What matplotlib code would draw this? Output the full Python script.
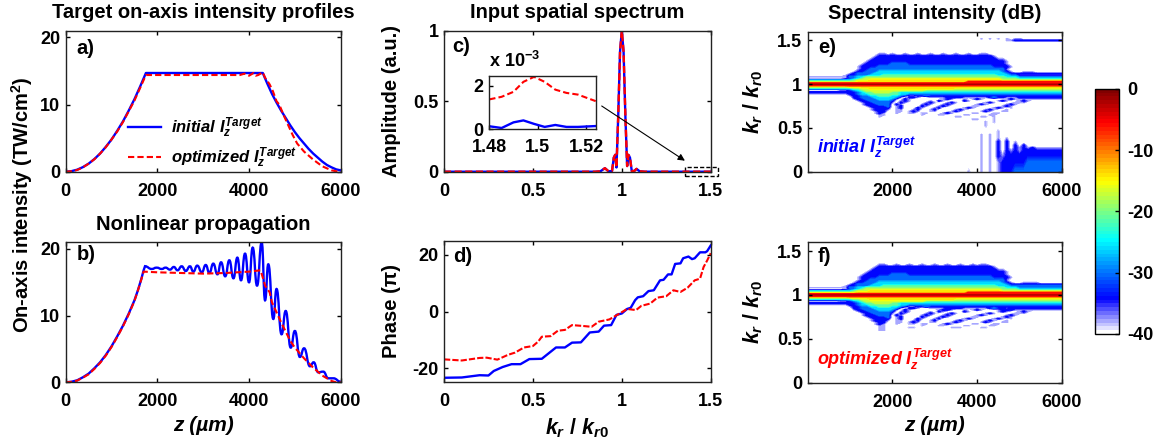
import numpy as np
import matplotlib
matplotlib.use('Agg')
import matplotlib.pyplot as plt
from matplotlib.colors import LinearSegmentedColormap
from matplotlib.patches import Rectangle, PathPatch
from matplotlib.path import Path

plt.rcParams['font.family'] = ['Liberation Sans', 'DejaVu Sans']
plt.rcParams['font.weight'] = 'bold'
plt.rcParams['axes.labelweight'] = 'bold'
plt.rcParams['axes.titleweight'] = 'bold'
plt.rcParams['axes.unicode_minus'] = False
plt.rcParams['mathtext.fontset'] = 'custom'
plt.rcParams['mathtext.it'] = 'Liberation Sans:italic:bold'
plt.rcParams['mathtext.rm'] = 'Liberation Sans:bold'
plt.rcParams['mathtext.bf'] = 'Liberation Sans:bold'
plt.rcParams['mathtext.default'] = 'it'

W, H = 1158, 444
FS = 13
TS = 14.5
BLUE = '#0000ff'
RED = '#ff0000'

# a) target profiles
z_a_init = [0, 125, 250, 375, 500, 625, 750, 875, 1000, 1125, 1250, 1375, 1500, 1625, 1750, 4300, 4400, 4500, 4600, 4700, 4800, 4900,
            5000, 5100, 5200, 5300, 5400, 5500, 5600, 5700, 5800, 5900, 6000]
I_a_init = [0, 0.08, 0.3, 0.68, 1.2, 1.88, 2.7, 3.7, 4.8, 6.1, 7.5, 9.1, 10.8, 12.7, 14.7, 14.7, 13.1, 11.6, 10.3, 9.1, 8.0, 6.9,
            5.9, 5.0, 4.2, 3.4, 2.7, 2.1, 1.5, 1.0, 0.65, 0.35, 0.2]
z_a_opt = [0, 125, 250, 375, 500, 625, 750, 875, 1000, 1125, 1250, 1375, 1500, 1625, 1750, 3000, 3800, 3900, 4000, 4100, 4150, 4200,
           4300, 4350, 4450, 4520, 4600, 4660, 4750, 4850, 4950, 5050, 5200, 5400, 5600, 5800, 5950, 6000]
I_a_opt = [0, 0.07, 0.25, 0.65, 1.2, 1.85, 2.7, 3.65, 4.8, 6.0, 7.4, 9.0, 10.6, 12.5, 14.4, 14.4, 14.4, 14.6, 14.3, 14.7, 14.3, 14.4,
           14.8, 14.0, 13.0, 12.0, 10.5, 10.0, 8.5, 7.0, 5.5, 4.2, 3.0, 1.8, 0.8, 0.2, 0, 0]

# b) nonlinear propagation
z_b_rise = [0, 125, 250, 375, 500, 625, 750, 875, 1000, 1125, 1250, 1375, 1500, 1575, 1650, 1700, 1730]
I_b_rise = [0, 0.08, 0.3, 0.75, 1.3, 2.1, 3.0, 4.1, 5.4, 6.9, 8.5, 10.3, 12.3, 13.8, 15.5, 16.8, 17.4]
z_b_osc = [1730, 1875, 1985, 2095, 2180, 2275, 2360, 2440, 2530, 2620, 2710, 2785, 2870,
           2970, 3055, 3135, 3220, 3310, 3390, 3480, 3570, 3660, 3745, 3825, 3913, 4000, 4080, 4175, 4276, 4350, 4420, 4530,
           4600, 4710, 4800, 4910, 5000, 5110, 5200, 5330, 5410, 5510, 5620, 5730, 5840, 6000]
I_b_osc = [17.4, 17.0, 17.2, 17.0, 17.2, 16.9, 17.3, 16.8, 17.4, 16.7, 17.4, 16.6, 17.5,
           16.5, 17.6, 16.4, 17.8, 16.2, 18.0, 15.9, 18.3, 15.6, 18.7, 15.3, 19.3, 15.0, 20.2, 14.5, 21.0, 12.3, 17.7, 9.5,
           14.0, 7.2, 10.7, 5.2, 7.7, 3.8, 5.1, 2.4, 3.0, 1.5, 1.6, 0.6, 0.6, 0.1]
z_b_opt = [0, 125, 250, 375, 500, 625, 750, 875, 1000, 1125, 1250, 1375, 1500, 1600, 1700, 2000, 3000, 3500, 4000, 4250, 4310, 4350,
           4450, 4500, 4600, 4700, 4800, 4900, 5000, 5200, 5400, 5600, 5800, 5900, 6000]
I_b_opt = [0, 0.07, 0.25, 0.7, 1.2, 2.0, 2.9, 4.0, 5.3, 6.8, 8.4, 10.2, 12.2, 14.3, 16.6, 16.5, 16.3, 16.4, 16.6, 16.8, 15.5, 14.5,
           13.5, 12.0, 10.5, 9.0, 7.6, 6.2, 5.2, 3.6, 2.2, 1.0, 0.2, 0, 0]

# c) input spectrum
k_c = [0, 0.85, 0.88, 0.905, 0.925, 0.945, 0.955, 0.963, 0.97, 0.98, 0.99, 1.0, 1.01, 1.02, 1.03, 1.037, 1.046, 1.056, 1.07, 1.083,
       1.1, 1.13, 1.5]
amp_c = [0, 0, 0.003, 0.025, 0.003, 0.005, 0.1, 0.12, 0.03, 0.4, 0.85, 1.0, 0.85, 0.4, 0.04, 0.12, 0.1, 0.005, 0.005, 0.02,
         0.003, 0, 0]
k_inset = [1.48, 1.4851, 1.49, 1.4941, 1.4985, 1.5029, 1.5073, 1.5119, 1.5167, 1.524]
amp_inset_init = [0.14, 0.06, 0.32, 0.41, 0.25, 0.11, 0.2, 0.11, 0.11, 0.15]
amp_inset_opt = [1.38, 1.5, 1.73, 2.19, 2.42, 2.19, 1.83, 1.68, 1.6, 1.3]

# d) phase
k_d_init = [0, 0.1, 0.2, 0.25, 0.28, 0.33, 0.38, 0.43, 0.48, 0.55, 0.6, 0.63, 0.68, 0.72, 0.77, 0.82, 0.87, 0.9, 0.94, 0.97, 1.0,
            1.03, 1.05, 1.075, 1.09, 1.12, 1.15, 1.18, 1.215, 1.235, 1.26, 1.28, 1.3, 1.33, 1.345, 1.375, 1.395, 1.41, 1.44,
            1.47, 1.48, 1.5]
ph_d_init = [-23.4, -23.3, -22.5, -22.6, -21, -19.6, -18.6, -18.6, -16.8, -16.7, -14.2, -12.7, -12.7, -11, -10.9, -7.4, -7.1, -5,
             -4.8, -1.2, -0.7, 0.9, 1.3, 4, 5, 5.4, 7.2, 7.5, 11, 11.2, 13.1, 13.1, 16.8, 17, 18.8, 19.4, 18.5, 18.8, 20.9,
             20.9, 21.3, 23.3]
k_d_opt = [0, 0.1, 0.2, 0.24, 0.3, 0.36, 0.4, 0.45, 0.5, 0.53, 0.55, 0.6, 0.64, 0.68, 0.72, 0.78, 0.83, 0.87, 0.93, 0.98, 1.03,
           1.08, 1.11, 1.16, 1.2, 1.25, 1.29, 1.33, 1.37, 1.41, 1.44, 1.46, 1.48, 1.5]
ph_d_opt = [-16.9, -17.3, -16.4, -16.3, -17, -15.3, -14.5, -12.7, -12.2, -10.6, -8.9, -8.7, -6.8, -6.5, -4.8, -5.1, -5.4, -3.6,
            -2.8, -1, 0.9, 0.5, 2, 2.8, 4.9, 5.4, 7.5, 6.9, 8.4, 11, 11.6, 15.7, 18, 20.6]

# e, f) spectral maps, one digit per cell (index into db_levels), z every 100 um
z_map = np.arange(0, 6001, 100)
db_levels = [-42, -38, -34, -30, -26, -21, -17, -14, -6, -0.3]
k_rows_e = [1.54, 1.52, 1.50, 1.48, 1.37, 1.35, 1.32, 1.29, 1.26, 1.23, 1.20, 1.17, 1.14, 1.12, 1.10, 1.085, 1.065, 1.045, 1.025,
            1.012, 1.0, 0.988, 0.97, 0.95, 0.93, 0.91, 0.89, 0.87, 0.85, 0.83, 0.81, 0.79, 0.77, 0.75, 0.73, 0.71, 0.69, 0.67,
            0.65, 0.63, 0.60, 0.57, 0.53, 0.46, 0.42, 0.38, 0.34, 0.30, 0.27, 0.24, 0.18, 0.10, 0]
rows_e = [
    '0000000000 0000000000 0000000000 0000000000 0000000000 0000000000 0',
    '0000000000 0000000000 0000000000 0000000000 0101010101 1000000000 0',
    '0000000000 0000000000 0000000000 0000000000 0000000112 2222222222 2',
    '0000000000 0000000000 0000000000 0000000000 0000000000 0000000000 0',
    '0000000000 0000000000 0000000000 0000000000 0000000000 0000000000 0',
    '0000000000 0000000110 1001001001 0010010010 0110000000 0000000000 0',
    '0000000000 0000001222 2222222222 2222222222 2222100000 0000000000 0',
    '0000000000 0000012222 2222222222 2222222222 2222211000 0000000000 0',
    '0000000000 0000122222 2222222222 2222222222 2222222100 0000000000 0',
    '0000000000 0001222222 3333222222 2222222222 2222222100 0000000000 0',
    '0000000000 0012222333 3333333333 3333333333 3333222210 0000000000 0',
    '0000000000 0012233333 3333333333 3333333333 3333333100 0000000000 0',
    '0000000000 0122333444 4444444444 4444444444 4444443210 0111000000 0',
    '0000000000 1233334444 4444444444 4444444444 4444444322 2222222222 2',
    '0000000001 2233344455 5555555555 5555555555 5555544433 1111111111 1',
    '1111111111 3344555555 5555555555 5555555555 5555555444 3333333333 3',
    '0000000001 2345666666 6666666666 6666666666 6666665555 4444444444 4',
    '4444444444 4566677777 7777777777 7777777777 7777776666 6666666666 6',
    '6666666666 6677777777 7777777777 7777777788 8888888888 8888888888 8',
    '8888888888 8888888888 8888888888 8888888888 8888888888 8888888888 8',
    '9999999999 9999999999 9999999999 9999999999 9999999999 9999999999 9',
    '8888888888 8888888888 8888888888 8888888888 8888888888 8888888888 8',
    '6666666666 7777777777 7777777777 7777777777 7777777777 7777777777 7',
    '4444444444 4556677777 7777777777 7777766666 6666666666 6666666666 6',
    '0000000011 2345666666 6666666655 5555555555 5555555555 5555555555 5',
    '2222222222 2234556666 5544444444 4444444444 4444444444 4444444444 4',
    '1111111111 2234455555 5544333333 3333333333 3333333333 3333333333 3',
    '0000000000 1223344555 4432112232 2222222222 2222222222 2222222222 2',
    '0000000000 0223334444 4310221001 1112222111 1112322111 2222222222 2',
    '0000000000 0122333444 3102100000 0012100101 2100000121 1111111111 1',
    '0000000000 0012233333 2012100001 0210000210 0000012100 1210000000 0',
    '0000000000 0001223333 1021000012 1001210000 0012100001 1100000000 0',
    '0000000000 0001222333 0210000121 0012100000 1210000121 0000000000 0',
    '0000000000 0000122223 0120000210 0121000001 1000001210 0000000000 0',
    '0000000000 0000012222 0120002100 1200000121 0000121010 0000000000 0',
    '0000000000 0000012221 0110012001 2000012100 0012100100 0000000000 0',
    '0000000000 0000001220 0110121001 1000121000 0121001100 0000000000 0',
    '0000000000 0000001210 0100110110 0012100001 1000110000 0000000000 0',
    '0000000000 0000000110 0000000100 0110000110 0001100000 0000000000 0',
    '0000000000 0000000100 0000000000 0000011000 0110100000 0000000000 0',
    '0000000000 0000000000 0000000000 0000000001 1000100000 0000000000 0',
    '0000000000 0000000000 0000000000 0000000000 0010100000 0000000000 0',
    '0000000000 0000000000 0000000000 0000000000 0010000000 0000000000 0',
    '0000000000 0000000000 0000000000 0000000000 0000010000 0000000000 0',
    '0000000000 0000000000 0000000000 0000000000 0101010000 0000000000 0',
    '0000000000 0000000000 0000000000 0000000000 0101010100 0000000000 0',
    '0000000000 0000000000 0000000000 0000000000 0101020201 0000000000 0',
    '0000000000 0000000000 0000000000 0000000000 0101020202 0200000000 0',
    '0000000000 0000000000 0000000000 0000000000 0101020202 1212111111 1',
    '0000000000 0000000000 0000000000 0000000000 0101020212 1222222222 2',
    '0000000000 0000000000 0000000000 0000000000 0101021222 2222222222 2',
    '0000000000 0000000000 0000000000 0000000000 0101012222 2233333333 3',
    '0000000000 0000000000 0000000000 0000000010 0101012223 3333333333 3',
]
k_rows_f = [1.37, 1.35, 1.32, 1.29, 1.26, 1.23, 1.20, 1.17, 1.14, 1.12, 1.10, 1.085, 1.065, 1.045, 1.025, 1.012, 1.0, 0.988, 0.97,
            0.95, 0.93, 0.91, 0.89, 0.87, 0.85, 0.83, 0.81, 0.79, 0.77, 0.75, 0.73, 0.71, 0.69, 0.67, 0.65, 0.63, 0.60, 0.57, 0]
rows_f = [
    '0000000000 0000000000 0000000000 0000000000 0000000000 0000000000 0',
    '0000000000 0000000110 0100100100 1001001001 0110000000 0000000000 0',
    '0000000000 0000001222 2222222222 2222222222 2222100000 0000000000 0',
    '0000000000 0000012222 2222222222 2222222222 2222211000 0000000000 0',
    '0000000000 0000122222 2222222222 2222222222 2222222100 0000000000 0',
    '0000000000 0001222222 3333222222 2222222222 2222222100 0000000000 0',
    '0000000000 0012222333 3333333333 3333333333 3333222210 0000000000 0',
    '0000000000 0012233333 3333333333 3333333333 3333333100 0000000000 0',
    '0000000000 0122333444 4444444444 4444444444 4444443210 0111100000 0',
    '0000000000 1233334444 4444444444 4444444444 4444444322 2222222222 2',
    '0000000001 2233344455 5555555555 5555555555 5555544433 3333333333 3',
    '1111111111 3344555555 5555555555 5555555555 5555555444 3333333333 3',
    '0000000001 2345666666 6666666666 6666666666 6666665555 4444444444 4',
    '4444444444 4566677777 7777777777 7777777777 7777776666 6666666666 6',
    '6666666666 6677777777 7777777777 7777777788 8888888888 8888888888 8',
    '8888888888 8888888888 8888888888 8888888888 8888888888 8888888888 8',
    '9999999999 9999999999 9999999999 9999999999 9999999999 9999999999 9',
    '8888888888 8888888888 8888888888 8888888888 8888888888 8888888888 8',
    '6666666666 7777777777 7777777777 7777777777 7777777777 7777777777 7',
    '4444444444 4556677777 7777777777 7777766666 6666666666 6666666666 6',
    '0000000011 2345666666 6666666655 5555555555 5555555555 5555555555 5',
    '2222222222 2234556666 5544444444 4444444444 4444444444 4444444444 4',
    '1111111111 2234455555 5544333333 3333333333 3333333333 3333333333 3',
    '0000000000 1223344555 4432112232 2222222222 2222222222 2222222222 2',
    '0000000000 0223334444 4310221001 1112222111 1112322122 2222222222 2',
    '0000000000 0122333444 3102100000 0122100101 2100012221 1111111111 1',
    '0000000000 0012233333 2012100001 0210000210 0000012100 1210000000 0',
    '0000000000 0001223333 1021000012 1001210000 0012100001 1100000000 0',
    '0000000000 0001222333 0210000121 0012100000 1210000121 0000000000 0',
    '0000000000 0000122223 0120000210 0121000001 1000001210 0000000000 0',
    '0000000000 0000012222 0120002100 1200000121 0000121010 0000000000 0',
    '0000000000 0000012221 0110012001 2000012100 0012100100 0000000000 0',
    '0000000000 0000001220 0110121001 1000121000 0121001100 0000000000 0',
    '0000000000 0000001210 0100110110 0012100001 1000110000 0000000000 0',
    '0000000000 0000000110 0000000100 0110000110 0001100000 0000000000 0',
    '0000000000 0000000110 0000110000 0000111000 0110000000 0000000000 0',
    '0000000000 0000000110 0000000000 0000000000 0000000000 0000000000 0',
    '0000000000 0000000000 0000000000 0000000000 0000000000 0000000000 0',
    '0000000000 0000000000 0000000000 0000000000 0000000000 0000000000 0',
]

z_ticks = [0, 2000, 4000, 6000]
map_z_ticks = [2000, 4000, 6000]
k_ticks = [0, 0.5, 1, 1.5]
k_tick_labels = ['0', '0.5', '1', '1.5']
cbar_ticks = [0, -10, -20, -30, -40]

cmap = LinearSegmentedColormap.from_list('jetwhite', [
    (0.0, (1, 1, 1)), (0.1375, (0, 0, 1)), (0.3825, (0, 1, 1)),
    (0.625, (1, 1, 0)), (0.8675, (1, 0, 0)), (1.0, (0.5, 0, 0))], N=64)
levels = np.linspace(-40, 0, 65)


def add_ax(left, top, right, bottom):
    return fig.add_axes([left/W, 1-bottom/H, (right-left)/W, (bottom-top)/H])


def style(ax, pad_x=8):
    ax.tick_params(direction='in', length=3, width=1, top=True, right=True, labelsize=FS, pad=4)
    ax.tick_params(axis='x', pad=pad_x)
    for s in ax.spines.values():
        s.set_linewidth(1)
        s.set_color('#222222')


def decode(rows):
    return np.array([[db_levels[int(c)] for c in r.replace(' ', '')] for r in rows])


def wavy(x, y):
    # curve through the extrema, flat at each one
    verts = [(x[0], y[0])]
    codes = [Path.MOVETO]
    for i in range(len(x)-1):
        mid = (x[i] + x[i+1]) / 2
        verts += [(mid, y[i]), (mid, y[i+1]), (x[i+1], y[i+1])]
        codes += [Path.CURVE4] * 3
    return Path(verts, codes)


fig = plt.figure(figsize=(W/100, H/100), dpi=100)

label_target = r'$I_z^{Target}$'

ax_a = add_ax(65.7, 30.7, 340.7, 171.7)
ax_a.plot(z_a_init, I_a_init, color=BLUE, lw=1.7, label='initial ' + label_target)
ax_a.plot(z_a_opt, I_a_opt, color=RED, lw=1.5, ls=(0, (3, 1.5)), label='optimized ' + label_target)
ax_a.set_xlim(0, 6000)
ax_a.set_ylim(0, 21)
ax_a.set_xticks(z_ticks)
ax_a.set_yticks([0, 10, 20])
ax_a.set_title('Target on-axis intensity profiles', fontsize=TS, pad=9)
ax_a.legend(loc='lower left', bbox_to_anchor=(0.226, 0.015), frameon=False, handlelength=2.0, handletextpad=0.6,
            labelspacing=0.3, borderpad=0, borderaxespad=0, prop={'size': 12, 'weight': 'bold', 'style': 'italic'})
style(ax_a)

ax_b = add_ax(65.7, 242.3, 340.7, 382.3)
ax_b.plot(z_b_rise, I_b_rise, color=BLUE, lw=1.7)
ax_b.add_patch(PathPatch(wavy(z_b_osc, I_b_osc), fc='none', ec=BLUE, lw=1.7))
ax_b.plot(z_b_opt, I_b_opt, color=RED, lw=1.5, ls=(0, (3, 1.5)))
ax_b.set_xlim(0, 6000)
ax_b.set_ylim(0, 21)
ax_b.set_xticks(z_ticks)
ax_b.set_yticks([0, 10, 20])
ax_b.set_title('Nonlinear propagation', fontsize=TS, pad=9)
ax_b.set_xlabel('z (µm)', fontsize=FS+2, fontstyle='italic', labelpad=4)
style(ax_b)
fig.text(22/W, 1-205/H, 'On-axis intensity (TW/cm$^{\\mathrm{2}}$)', rotation=90, ha='center', va='center', fontsize=TS)

ax_c = add_ax(444, 30.7, 710.7, 171.7)
ax_c.plot(k_c, amp_c, color=BLUE, lw=1.7)
ax_c.plot(k_c, amp_c, color=RED, lw=1.7, ls=(0, (3, 1.5)))
ax_c.set_xlim(0, 1.5)
ax_c.set_ylim(0, 1)
ax_c.set_xticks(k_ticks)
ax_c.set_xticklabels(k_tick_labels)
ax_c.set_yticks([0, 0.5, 1])
ax_c.set_yticklabels(['0', '0.5', '1'])
ax_c.set_title('Input spatial spectrum', fontsize=TS, pad=9)
ax_c.set_ylabel('Amplitude (a.u.)', fontsize=TS)
ax_c.yaxis.set_label_coords(-0.161, 0.5)
ax_c.add_patch(Rectangle((1.355, -0.03), 0.185, 0.06, fill=False, ec='black', ls=(0, (3, 1.5)), lw=1, clip_on=False))
ax_c.annotate('', xy=(1.355, 0.078), xytext=(0.887, 0.466),
              arrowprops=dict(arrowstyle='-|>', color='black', lw=0.8, shrinkA=0, shrinkB=0))
style(ax_c)

ax_in = add_ax(489.3, 76, 595.7, 129.3)
ax_in.plot(k_inset, amp_inset_init, color=BLUE, lw=1.7)
ax_in.plot(k_inset, amp_inset_opt, color=RED, lw=1.5, ls=(0, (3, 1.5)))
ax_in.set_xlim(1.48, 1.524)
ax_in.set_ylim(0, 2.46)
ax_in.set_xticks([1.48, 1.5, 1.52])
ax_in.set_xticklabels(['1.48', '1.5', '1.52'])
ax_in.set_yticks([0, 2])
ax_in.set_yticklabels(['0', '2'])
style(ax_in, pad_x=7)
ax_in.tick_params(top=False, right=False)
ax_in.text(0.0, 1.1, 'x 10$^{\\mathrm{-3}}$', transform=ax_in.transAxes, fontsize=FS, va='bottom')

ax_d = add_ax(444, 240.7, 710.7, 382.3)
ax_d.plot(k_d_init, ph_d_init, color=BLUE, lw=1.7)
ax_d.plot(k_d_opt, ph_d_opt, color=RED, lw=1.5, ls=(0, (3, 1)))
ax_d.set_xlim(0, 1.5)
ax_d.set_ylim(-25, 25)
ax_d.set_xticks(k_ticks)
ax_d.set_xticklabels(k_tick_labels)
ax_d.set_yticks([-20, 0, 20])
ax_d.set_xlabel('$k_r$ / $k_{r0}$', fontsize=15.5, labelpad=4)
ax_d.set_ylabel('Phase (π)', fontsize=TS)
ax_d.yaxis.set_label_coords(-0.161, 0.5)
style(ax_d)

ax_e = add_ax(807.7, 31.7, 1062, 171.7)
cs = ax_e.contourf(z_map, k_rows_e, decode(rows_e), levels=levels, cmap=cmap)
ax_e.set_title('Spectral intensity (dB)', fontsize=TS, pad=9)
ax_e.text(0.037, 0.134, 'initial ' + label_target, transform=ax_e.transAxes, color=BLUE, fontsize=13, fontstyle='italic')

ax_f = add_ax(807.7, 242.3, 1062, 382.7)
ax_f.contourf(z_map, k_rows_f, decode(rows_f), levels=levels, cmap=cmap)
ax_f.text(0.037, 0.126, 'optimized ' + label_target, transform=ax_f.transAxes, color=RED, fontsize=13, fontstyle='italic')
ax_f.set_xlabel('z (µm)', fontsize=FS+2, fontstyle='italic', labelpad=4)

for ax in (ax_e, ax_f):
    ax.set_xlim(0, 6000)
    ax.set_ylim(0, 1.6)
    ax.set_xticks(map_z_ticks)
    ax.set_yticks(k_ticks)
    ax.set_yticklabels(k_tick_labels)
    ax.set_ylabel('$k_r$ / $k_{r0}$', fontsize=15.5)
    ax.yaxis.set_label_coords(-0.168, 0.5)
    style(ax)

cax = add_ax(1095, 88.7, 1119, 334)
cb = fig.colorbar(cs, cax=cax, ticks=cbar_ticks)
cb.ax.tick_params(direction='in', length=3, width=1, labelsize=FS, pad=6, right=True)
cb.set_ticklabels([str(t) for t in cbar_ticks])
cb.outline.set_linewidth(1)

labels = [(ax_a, 'a)', 0.04, 0.877), (ax_b, 'b)', 0.04, 0.91), (ax_c, 'c)', 0.03, 0.885),
          (ax_d, 'd)', 0.035, 0.89), (ax_e, 'e)', 0.04, 0.89), (ax_f, 'f)', 0.04, 0.9)]
for ax, s, x, y in labels:
    ax.text(x, y, s, transform=ax.transAxes, fontsize=FS+1.5, va='center')

fig.savefig('out.png', dpi=100)
